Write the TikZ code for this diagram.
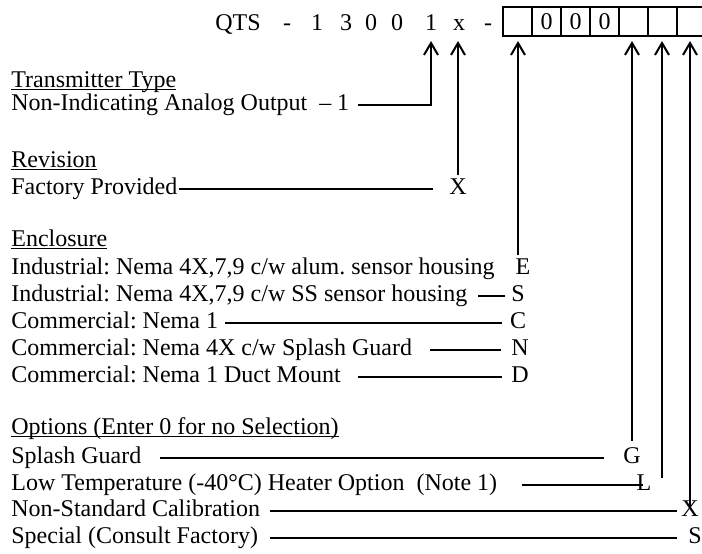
\documentclass[tikz,border=0pt]{standalone}
\usepackage{fontspec}
\setmainfont{Liberation Serif}
\usetikzlibrary{arrows.meta}
\frenchspacing
% underline that sits just under the baseline
\newcommand{\headtext}[1]{\setbox0=\hbox{#1}\rlap{\rule[-1.4pt]{\wd0}{0.6pt}}\box0}

\begin{document}
\begin{tikzpicture}[
    x=0.5pt, y=-0.5pt,
    every node/.style={font=\fontsize{12pt}{14pt}\selectfont},
    entry/.style={anchor=west, inner sep=0pt, text height=8pt, text depth=2.5pt},
    code/.style={inner sep=0pt, text height=8pt, text depth=2.5pt},
    cell/.style={draw, line width=1pt, minimum width=14.5pt, minimum height=14.5pt, inner sep=0pt},
    link/.style={line width=1pt},
    arrow/.style={-{Straight Barb[length=6pt,width=7pt]}, line width=1pt}
]
\useasboundingbox (0,0) rectangle (702,553);

% Model number
\foreach \ch/\xx [count=\i] in {QTS/238,-/287,1/317,3/346,0/371,0/397,1/431,x/459,-/488}
  \node[code] (t\i) at (\xx,24.5) {\ch};
\foreach \v [count=\i] in {{},0,0,0,{},{},{}}
  \node[cell] (b\i) at ({488.5+29*\i},21.5) {\v};

\coordinate (p-type) at (431,41);
\coordinate (p-rev) at (458,41);
\coordinate (p-encl) at (518,41);
\coordinate (p-g) at (632,41);
\coordinate (p-l) at (662,41);
\coordinate (p-x) at (690,41);

% Transmitter type
\node[entry] (tt) at (11,82) {\headtext{Transmitter Type}};
\node[entry] (ni) at (11,105) {Non-Indicating Analog Output~~–};
\node[code] (c-1) at (343,105) {1};

% Revision
\node[entry] (rev) at (11,162) {\headtext{Revision}};
\node[entry] (fp) at (11,189) {Factory Provided};
\node[code] (c-X) at (458,189) {X};

% Enclosure
\node[entry] (encl) at (11,240.5) {\headtext{Enclosure}};
\node[entry] (ind-al) at (11,269) {Industrial: Nema 4X,7,9 c/w alum. sensor housing};
\node[entry] (ind-ss) at (11,296) {Industrial: Nema 4X,7,9 c/w SS sensor housing};
\node[entry] (com-1) at (11,323) {Commercial: Nema 1};
\node[entry] (com-4x) at (11,350) {Commercial: Nema 4X c/w Splash Guard};
\node[entry] (com-dm) at (11,377) {Commercial: Nema 1 Duct Mount};
\node[code] (c-E) at (523,269) {E};
\node[code] (c-S) at (518,296) {S};
\node[code] (c-C) at (518,323) {C};
\node[code] (c-N) at (520,350) {N};
\node[code] (c-D) at (520,377) {D};

% Options
\node[entry] (opt) at (11,428.5) {\headtext{Options (Enter 0 for no Selection)}};
\node[entry] (splash) at (11,458) {Splash Guard};
\node[entry] (lowtemp) at (11,484.5) {Low Temperature (-40°C) Heater Option~~(Note 1)};
\node[entry] (nonstd) at (11,511) {Non-Standard Calibration};
\node[entry] (special) at (11,537.5) {Special (Consult Factory)};
\node[code] (c-G) at (632,458) {G};
\node[code] (c-L) at (644,484.5) {L};
\node[code] (c-Xo) at (690,511) {X};
\node[code] (c-So) at (695,537.5) {S};

% Lines
\draw[arrow, shorten <=4.5pt] (c-1) -| (p-type);
\draw[link, shorten <=0.5pt, shorten >=8pt] (fp) -- (c-X);
\draw[arrow] (c-X.north) ++(0,-3) -- (p-rev);
\draw[arrow] (c-E.north -| p-encl) ++(0,-3.5) -- (p-encl);
\draw[link, shorten <=5pt, shorten >=3pt] (ind-ss) -- (c-S);
\draw[link, shorten <=3.5pt, shorten >=4pt] (com-1) -- (c-C);
\draw[link, shorten <=9pt, shorten >=5pt] (com-4x) -- (c-N);
\draw[link, shorten <=8.5pt, shorten >=4.5pt] (com-dm) -- (c-D);
\draw[link, shorten <=9pt, shorten >=9.5pt] (splash) -- (c-G);
\draw[link, shorten <=12pt, shorten >=0.5pt] (lowtemp) -- (c-L.center);
\draw[link, shorten <=5pt, shorten >=2pt] (nonstd) -- (c-Xo);
\draw[link, shorten <=6pt, shorten >=5.5pt] (special) -- (c-So);
\draw[arrow] (c-G.north -| p-g) ++(0,-6.5) -- (p-g);
\draw[arrow] (c-L.north -| p-l) ++(0,4) -- (p-l);
\draw[arrow] (c-Xo.north -| p-x) ++(0,7.5) -- (p-x);

\end{tikzpicture}
\end{document}
